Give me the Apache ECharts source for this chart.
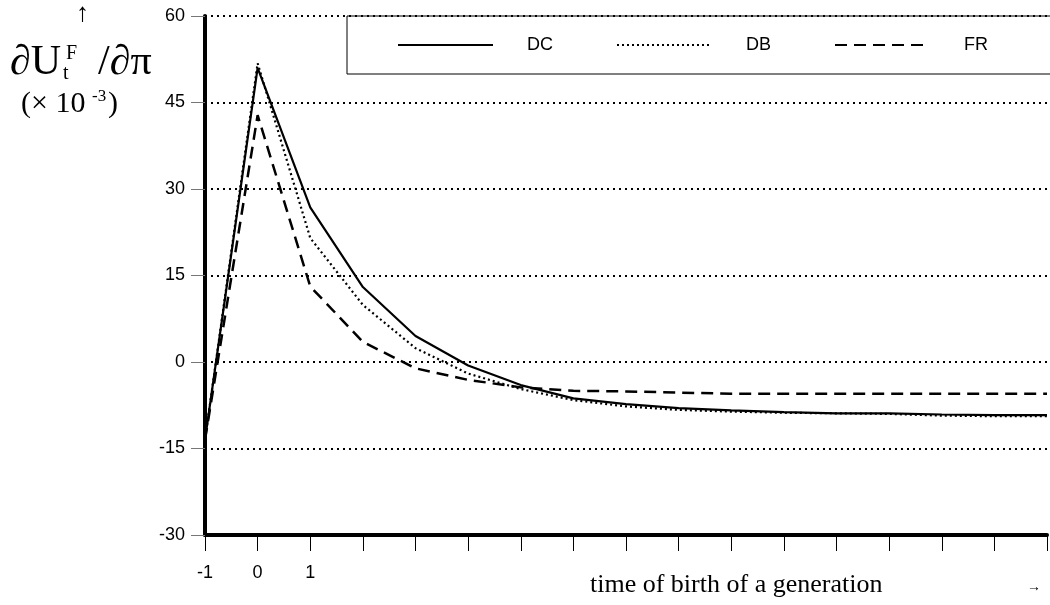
<!DOCTYPE html>
<html><head><meta charset="utf-8">
<script src="https://cdn.jsdelivr.net/npm/echarts@6/dist/echarts.min.js"></script>
<style>html,body{margin:0;padding:0;background:#fff}#c{width:1050px;height:605px}</style>
</head><body><div id="c"></div>
<script>
var periods = [-1,0,1,2,3,4,5,6,7,8,9,10,11,12,13,14,15];
var dcValues = [-13.5, 51.0, 26.8, 13.0, 4.5, -0.6, -4.0, -6.3, -7.3, -8.0, -8.4, -8.7, -8.9, -8.9, -9.1, -9.2, -9.2];
var dbValues = [-13.5, 51.8, 21.5, 9.9, 2.4, -2.0, -4.7, -6.6, -7.7, -8.3, -8.6, -8.8, -8.9, -9.0, -9.3, -9.4, -9.4];
var frValues = [-13.5, 42.8, 13.1, 3.5, -1.1, -3.1, -4.4, -5.0, -5.1, -5.3, -5.5, -5.5, -5.5, -5.5, -5.5, -5.5, -5.5];
var seriesNames = ['DC','DB','FR'];
var xLabelShown = [-1,0,1];
var yTicks = {min:-30, max:60, step:15};

function pairs(v){ return periods.map(function(t,i){ return [t, v[i]]; }); }

var chart = echarts.init(document.getElementById('c'));
var serif = '"Liberation Serif","Times New Roman",serif';
var sans = '"Liberation Sans",Arial,sans-serif';
chart.setOption({
  animation:false,
  backgroundColor:'#fff',
  grid:{left:205, right:-1, top:16, bottom:70, containLabel:false},
  legend:{
    data:seriesNames, left:347, top:16, width:700,
    orient:'horizontal',
    padding:[20,75,20,50],
    itemWidth:95, itemHeight:14, itemGap:63,
    borderColor:'#000', borderWidth:1,
    itemStyle:{opacity:0, borderWidth:0},
    textStyle:{fontFamily:sans, fontSize:18, color:'#000', padding:[0,0,0,29]}
  },
  xAxis:{
    type:'value', min:periods[0], max:periods[periods.length-1], interval:1,
    axisLine:{show:true, onZero:false, lineStyle:{color:'#000', width:4}},
    axisTick:{show:true, inside:false, length:16, lineStyle:{color:'#000', width:1}},
    axisLabel:{margin:29, fontFamily:sans, fontSize:18, color:'#000',
      formatter:function(v){ return xLabelShown.indexOf(v)>=0 ? String(v) : ''; }},
    splitLine:{show:false}
  },
  yAxis:{
    type:'value', min:yTicks.min, max:yTicks.max, interval:yTicks.step,
    axisLine:{show:true, onZero:false, lineStyle:{color:'#000', width:4}},
    axisTick:{show:true, length:14, lineStyle:{color:'#777', width:1}},
    axisLabel:{margin:20, fontFamily:sans, fontSize:18, color:'#000'},
    splitLine:{show:true, lineStyle:{color:'#000', width:2, type:[2,4]}}
  },
  graphic:[
    {type:'text', left:76, top:1, style:{text:'↑', font:'26px '+serif, fill:'#000'}},
    {type:'text', left:10, top:42, style:{text:'∂U', font:'42px '+serif, fill:'#000'}},
    {type:'text', left:66, top:44, style:{text:'F', font:'20px '+serif, fill:'#000'}},
    {type:'text', left:63, top:64, style:{text:'t', font:'20px '+serif, fill:'#000'}},
    {type:'text', left:98, top:42, style:{text:'/∂π', font:'42px '+serif, fill:'#000'}},
    {type:'text', left:21, top:89, style:{text:'(× 10', font:'30px '+serif, fill:'#000'}},
    {type:'text', left:92, top:88, style:{text:'-3', font:'17px '+serif, fill:'#000'}},
    {type:'text', left:108, top:89, style:{text:')', font:'30px '+serif, fill:'#000'}},
    {type:'text', left:590, top:572, style:{text:'time of birth of a generation', font:'26px '+serif, fill:'#000'}},
    {type:'text', left:1027, top:580, style:{text:'→', font:'14px '+serif, fill:'#000'}}
  ],
  series:[
    {name:seriesNames[0], type:'line', data:pairs(dcValues), symbol:'none', z:4,
      lineStyle:{color:'#000', width:2.2, type:'solid'}, itemStyle:{color:'#000'}},
    {name:seriesNames[1], type:'line', data:pairs(dbValues), symbol:'none', z:3,
      lineStyle:{color:'#000', width:2.2, type:[2,3]}, itemStyle:{color:'#000'}},
    {name:seriesNames[2], type:'line', data:pairs(frValues), symbol:'none', z:3,
      lineStyle:{color:'#000', width:2.5, type:[12,7]}, itemStyle:{color:'#000'}}
  ]
});
</script></body></html>
